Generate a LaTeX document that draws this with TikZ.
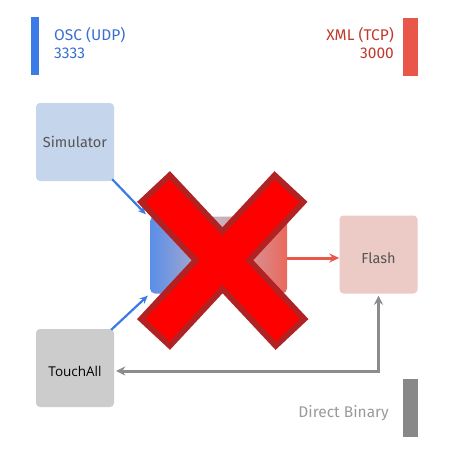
\documentclass[tikz,border=0pt]{standalone}
\usepackage{fontspec}
\setmainfont{Fira Sans}
\newfontfamily\tafont{Open Sans}
\usetikzlibrary{arrows.meta,calc}
\definecolor{oscblue}{HTML}{3A7BE8}
\definecolor{osctext}{HTML}{3A6FD0}
\definecolor{xmlred}{HTML}{E8574A}
\definecolor{xmltext}{HTML}{C0392B}
\definecolor{simfill}{HTML}{C5D5EC}
\definecolor{flashfill}{HTML}{ECCAC6}
\definecolor{touchfill}{HTML}{CCCCCC}
\definecolor{bingray}{HTML}{888888}
\definecolor{labgray}{HTML}{555555}
\definecolor{xborder}{HTML}{B22222}
\definecolor{coremid}{HTML}{C8B4C0}
\definecolor{coreleft}{HTML}{5A8EE8}
\tikzset{
  box/.style={minimum width=78pt,minimum height=78pt,rounded corners=4pt,inner sep=0pt,font=\fontsize{14.5}{16}\selectfont,text=labgray},
  bar/.style={inner sep=0pt,minimum width=15pt,minimum height=58pt},
  barlabel/.style={inner sep=0pt,font=\fontsize{15.5}{18}\selectfont,align=left},
  conn/.style={line width=2.2pt,-{Stealth[length=8pt,width=7pt]}},
}
\begin{document}
\begin{tikzpicture}[x=1pt,y=-1pt]
\useasboundingbox (0,0) rectangle (450,450);
\fill[white] (0,0) rectangle (450,450);
% bars
\node[bar,fill=oscblue,minimum width=8pt] (oscbar) at (34.5,46) {};
\node[bar,fill=xmlred] (xmlbar) at (410.5,46.5) {};
\node[bar,fill=bingray] (binbar) at (410.5,407.5) {};
\node[barlabel,anchor=west,text=osctext] (osc) at (54,43) {OSC (UDP)\\3333};
\node[barlabel,anchor=east,text=xmltext,align=right] (xml) at (394,43) {XML (TCP)\\3000};
\node[barlabel,anchor=east,text=bingray!85] (bin) at (389,413) {Direct Binary};
% boxes
\node[box,fill=simfill] (sim) at (75,142) {Simulator};
\node[box,fill=flashfill,label={[yshift=-3.5pt,font=\fontsize{14.5}{16}\selectfont,text=labgray]center:Flash}] (flash) at (378.5,254.5) {};
\node[box,fill=touchfill,label={[yshift=-3pt,text=black,font=\tafont\fontsize{13.5}{15}\selectfont]center:TouchAll}] (touch) at (75,368) {};
\node[minimum width=137pt,minimum height=77pt,rounded corners=5pt,inner sep=0pt,
  left color=coreleft,right color=xmlred!90,middle color=coremid] (core) at (218.5,255) {};
% connectors
\draw[conn,oscblue] ($(sim.south east)+(-2,-2)$) -- ($(core.north west)+(-4,-2)$);
\draw[conn,oscblue] ($(touch.north east)+(-3,1)$) -- ($(core.south west)+(-2,2)$);
\draw[xmlred,line width=3pt,-{Stealth[length=10pt,width=9pt]}] ($(core.east)+(0,3)$) -- ($(flash.west)+(0,3.5)$);
\draw[line width=3pt,color=black!45,{Stealth[length=9pt,width=9pt]}-{Stealth[length=9pt,width=9pt]}] ($(flash.south)+(0,2)$) |- ($(touch.east)+(2,3)$);
% big X
\coordinate (xa) at (153.5,186.5);
\coordinate (xb) at (292,334.5);
\coordinate (xc) at (291,186.5);
\coordinate (xd) at (153.5,334.5);
\draw[xborder,line width=45pt] (xa) -- (xb) (xc) -- (xd);
\draw[red,line width=33pt,shorten <=6pt,shorten >=6pt] (xa) -- (xb);
\draw[red,line width=33pt,shorten <=6pt,shorten >=6pt] (xc) -- (xd);
\end{tikzpicture}
\end{document}
